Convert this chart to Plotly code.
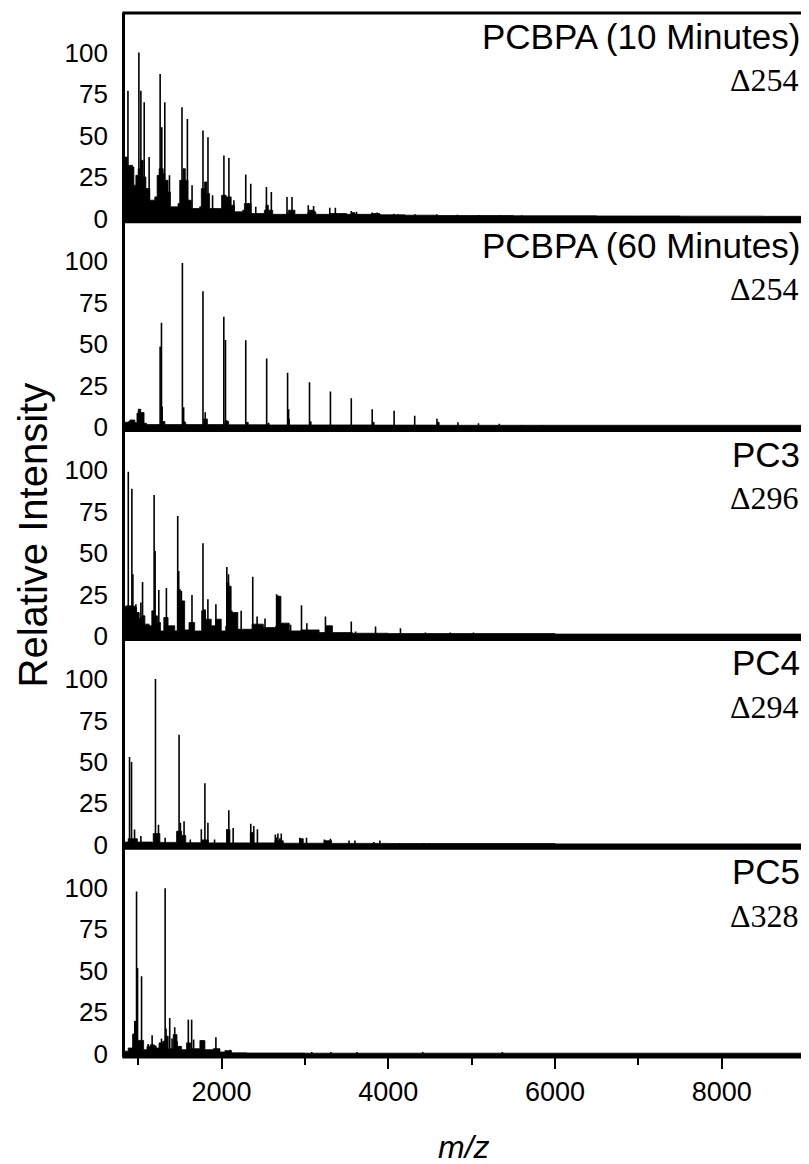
import plotly.graph_objects as go
from plotly.subplots import make_subplots

# ---------------- data ----------------
panel_names = ["PCBPA (10 Minutes)", "PCBPA (60 Minutes)", "PC3", "PC4", "PC5"]
panel_deltas = ["Δ254", "Δ254", "Δ296", "Δ294", "Δ328"]

y_ticks = [0, 25, 50, 75, 100]
x_major_ticks = [2000, 4000, 6000, 8000]
x_minor_ticks = [1000, 3000, 5000, 7000]

# Panel 1: PCBPA (10 min) peaks
p1_mz = [877, 1008, 1032, 1072, 1131, 1263, 1283, 1319, 1375, 1525, 1590, 1646, 1777, 1837, 1892,
         2028, 2088, 2148, 2290, 2350, 2410, 2538, 2597, 2785, 2845, 3040, 3104, 3298, 3365, 3556,
         3619, 3808, 3867, 4065, 4120, 4320, 4580, 4830, 5090, 5340, 5600]
p1_int = [77, 100, 77, 70, 37, 87, 55, 70, 26, 67, 60, 20, 53, 49, 14,
          38, 36.5, 11, 26.5, 21, 7, 19, 16, 13, 13, 8, 7.5, 6.5, 6.5, 4.5,
          4, 3.6, 3.6, 2.8, 2.6, 2.5, 2.4, 2.2, 2.1, 2.0, 2.0]
p1_floor_mz = [850, 861, 869, 932, 948, 972, 1000, 1028, 1060, 1092, 1139, 1199, 1227, 1251, 1300, 1319,
               1358, 1386, 1438, 1478, 1498, 1538, 1565, 1597, 1637, 1737, 1757, 1796, 1824, 1856, 1976,
               2000, 2055, 2115, 2155, 2254, 2274, 2314, 2354, 2513, 2533, 2561, 2613, 2780, 2800, 2860,
               2880, 3030, 3050, 3110, 3130, 3300, 3500, 3560, 3600, 3800, 3900, 4200, 4600, 5000, 5500,
               6000, 6500, 7000, 7500, 8000, 8500, 8975]
p1_floor_int = [37, 37, 32, 31, 20, 26, 30, 35, 25, 18, 11, 13, 26, 30, 27, 23,
                16, 7, 7, 9, 23, 30, 23, 11, 6, 7, 18, 22, 15, 6, 6,
                14, 13, 8, 4, 5, 9, 9, 3, 5, 8, 5, 2.5, 3, 5, 5,
                2.5, 3, 5, 4, 2.5, 3, 2.5, 3.5, 2.5, 3, 2.2, 2, 1.8, 1.8, 1.6,
                1.6, 1.5, 1.5, 1.4, 1.4, 1.3, 1.3]

# Panel 2: PCBPA (60 min)
p2_mz = [1263, 1279, 1287, 1530, 1545, 1777, 1804, 2027, 2047, 2290, 2541, 2792, 2804, 3055, 3306,
         3556, 3807, 4070, 4317, 4584, 4835, 5082, 5332, 5599, 5850]
p2_int = [48.6, 63, 12.5, 99, 12, 82, 9, 66.6, 52.6, 52.4, 41.5, 32.9, 10.9, 27.1, 21.5,
          17.5, 10.9, 9.9, 6.9, 5.1, 3.1, 2.5, 2.1, 1.3, 1.3]
p2_floor_mz = [850, 880, 900, 940, 960, 985, 1000, 1020, 1030, 1060, 1070, 1100, 1250, 1270, 1300, 1320,
               1520, 1535, 1555, 1570, 1770, 1785, 1815, 1830, 2020, 2040, 2070, 2085, 2280, 2300, 2320,
               2540, 2555, 2570, 2790, 2800, 2815, 3050, 3060, 3075, 3800, 3810, 3830, 4580, 4590, 4610,
               6000, 8975]
p2_floor_int = [3, 3.4, 4.4, 4.4, 2.8, 8.5, 10.9, 10.9, 8.9, 8.9, 2.4, 1.6, 1.8, 3.5, 3.5, 1.6,
                1.6, 3.5, 3, 1.6, 1.6, 5, 5, 1.6, 1.6, 4, 3.5, 1.5, 1.5, 3, 1.5,
                1.5, 2.5, 1.4, 1.4, 5, 1.4, 1.4, 3.4, 1.4, 1.3, 3, 1.3, 1.3, 3, 1.2,
                1.2, 1.1]

# Panel 3: PC3
p3_mz = [848, 881, 924, 936, 972, 1032, 1052, 1191, 1203, 1247, 1338, 1474, 1486, 1518, 1542, 1645,
         1777, 1800, 1836, 1932, 2063, 2083, 2123, 2235, 2374, 2426, 2521, 2660, 2676, 2720, 2828,
         2959, 3023, 3246, 3310, 3556, 3608, 3847, 4146, 4444, 4743, 5022, 5631]
p3_int = [10.6, 99, 88.8, 37.2, 19.2, 20.2, 32.6, 85, 51.3, 27.8, 29, 72.3, 39.2, 27.2, 21.2, 24.8,
          55.9, 16.2, 22.2, 19.2, 41.6, 37.2, 15.2, 15.2, 35.8, 11.8, 10.6, 25.2, 24.2, 7.6, 6.8,
          18.6, 7.8, 11.8, 4.5, 8.8, 2.7, 5.7, 4.7, 2.1, 2.1, 2.1, 1.1]
p3_floor_mz = [850, 860, 920, 960, 980, 1012, 1040, 1080, 1131, 1163, 1199, 1231, 1267, 1307, 1358, 1438,
               1470, 1490, 1506, 1557, 1609, 1677, 1761, 1808, 1876, 1928, 1996, 2050, 2060, 2088, 2115,
               2195, 2366, 2501, 2650, 2660, 2680, 2712, 2812, 2951, 3170, 3250, 3330, 3568, 4000, 5000,
               6000, 8975]
p3_floor_int = [18, 18.2, 18, 17.2, 14.2, 10.6, 12.2, 7.2, 6.2, 15.2, 12.2, 8.2, 3.1, 11.2, 6.2, 3.1,
                28.2, 28, 21.2, 3.7, 8.2, 3.1, 15.2, 10.2, 6.2, 10.2, 3.1, 6, 32, 30, 14.2,
                4.1, 7.2, 5.1, 6, 24.2, 24, 7.8, 3.1, 3.7, 2.1, 6.2, 2.1, 1.7, 1.5, 1.5,
                1.2, 1.0]

# Panel 4: PC4
p4_mz = [896, 920, 956, 1032, 1207, 1243, 1323, 1490, 1506, 1550, 1625, 1757, 1800, 1836, 1916,
         2067, 2087, 2139, 2350, 2386, 2430, 2645, 2660, 2676, 2700, 2716, 2939, 2963, 3019, 3234,
         3306, 3529, 3600, 3827, 3899, 4138, 4424, 4496]
p4_int = [52.9, 49.9, 9.2, 5.3, 100, 12.2, 4.3, 66.3, 13.4, 14.2, 3.3, 9.4, 37.2, 13.4, 3.3,
          9.2, 20.8, 10.2, 12.8, 11.4, 9.4, 6.2, 4.5, 6.8, 4.0, 6.8, 4.3, 2.3, 4.3, 3.3,
          3.7, 2.7, 2.6, 1.8, 2.6, 1.2, 1.2, 1.1]
p4_floor_mz = [850, 880, 960, 990, 1120, 1170, 1180, 1240, 1260, 1450, 1460, 1510, 1520, 1560, 1570,
               1750, 1760, 1830, 1840, 2050, 2060, 2090, 2100, 2340, 2345, 2375, 2385, 2630, 2640, 2730,
               2740, 2930, 2935, 2975, 2980, 3220, 3230, 3310, 3320, 4000, 6000, 8975]
p4_floor_int = [1.7, 3.7, 3.7, 1.7, 1.7, 1.5, 6.8, 6.8, 1.5, 1.5, 8.2, 8.2, 5.7, 5.7, 1.3,
                1.3, 3, 3, 1.2, 1.2, 9.2, 9.2, 1.2, 1.2, 7.4, 7.4, 1.2, 1.2, 2.5, 2.5,
                1, 1, 3.7, 3.7, 1, 1, 2.5, 2.5, 0.9, 0.8, 0.6, 0.5]

# Panel 5: PC5
p5_mz = [940, 960, 980, 992, 1040, 1119, 1167, 1191, 1211, 1279, 1323, 1334, 1378, 1406, 1438, 1466,
         1498, 1601, 1641, 1665, 1768, 1932, 1965, 2055, 2103, 3083, 3310, 3625, 4413, 5369]
p5_int = [11.5, 19.5, 97.7, 51.6, 46.6, 5.9, 11.1, 5.4, 5, 9.1, 99.7, 15.1, 21.5, 9.1, 15.9, 7.5,
          4.4, 20.5, 20.5, 8.5, 7.9, 9.9, 3, 1.8, 2.4, 1, 1, 1, 1, 1]
p5_floor_mz = [850, 880, 920, 935, 950, 955, 970, 975, 1060, 1065, 1100, 1105, 1140, 1145, 1180, 1185,
               1240, 1250, 1290, 1295, 1320, 1325, 1355, 1360, 1400, 1420, 1460, 1465, 1515, 1520, 1575,
               1580, 1625, 1630, 1730, 1740, 1790, 1800, 1860, 1900, 1970, 1980, 2035, 2040, 2115, 2120,
               2300, 3000, 8975]
p5_floor_int = [1.5, 3.4, 3.4, 11.9, 11.9, 19.5, 19.5, 8, 8, 2.4, 2.4, 4.4, 4.4, 5.4, 5.4, 3.4,
                3.4, 6.5, 6.5, 7.5, 7.5, 10.5, 10.5, 3, 3, 11.5, 11.5, 4.4, 4.4, 2.4, 2.4,
                6.5, 6.5, 3, 3, 7.9, 7.9, 2.4, 2.4, 3, 3, 1, 1, 1.8, 1.8, 0.5,
                0.4, 0.3, 0.2]

peaks = [(p1_mz, p1_int), (p2_mz, p2_int), (p3_mz, p3_int), (p4_mz, p4_int), (p5_mz, p5_int)]
floors = [(p1_floor_mz, p1_floor_int), (p2_floor_mz, p2_floor_int), (p3_floor_mz, p3_floor_int),
          (p4_floor_mz, p4_floor_int), (p5_floor_mz, p5_floor_int)]

# ---------------- figure ----------------
# The page body has an 8 px margin, so the figure is 16 px smaller than the window.
X_RANGE = [841.5, 8975]
Y_RANGE = [-2, 123.8]
FILL_BASE = -12          # below the visible range, clipped by the plot area
LW = 2.6
FONT = "Arial, Liberation Sans, sans-serif"
PANEL_PX = 208.9
PLOT_W = 681

fig = make_subplots(rows=5, cols=1, shared_xaxes=True, vertical_spacing=0)

for i in range(5):
    row = i + 1
    fmz, fint = floors[i]
    fx = [X_RANGE[0] - 100, X_RANGE[0] - 100] + list(fmz) + [X_RANGE[1] + 100, X_RANGE[1] + 100]
    fy = [FILL_BASE, fint[0]] + list(fint) + [fint[-1], FILL_BASE]
    fig.add_trace(go.Scatter(x=fx, y=fy, mode="lines", fill="toself", fillcolor="black",
                             line=dict(color="black", width=0.8, shape="hv"), showlegend=False,
                             hoverinfo="skip"), row=row, col=1)
    mz, it = peaks[i]
    sx, sy = [], []
    for m, v in zip(mz, it):
        sx += [m, m, None]
        sy += [0, v, None]
    fig.add_trace(go.Scatter(x=sx, y=sy, mode="lines", line=dict(color="black", width=1.6),
                             showlegend=False), row=row, col=1)

    fig.update_yaxes(range=Y_RANGE, tickvals=y_ticks, ticks="", showgrid=False, zeroline=False,
                     showline=True, linecolor="black", linewidth=LW, mirror=True,
                     tickfont=dict(family=FONT, size=26, color="black"), ticklabelstandoff=9,
                     row=row, col=1)
    last = (row == 5)
    fig.update_xaxes(range=X_RANGE, showgrid=False, zeroline=False, showline=False,
                     tickvals=x_major_ticks if last else [], ticks="outside" if last else "",
                     ticklen=11, tickwidth=2.2, tickcolor="black",
                     showticklabels=last,
                     tickfont=dict(family=FONT, size=27, color="black"),
                     row=row, col=1)
    if last:
        fig.update_xaxes(minor=dict(ticks="outside", ticklen=7, tickwidth=2, tickcolor="black",
                                    tickvals=x_minor_ticks), row=row, col=1)

    xref = "x domain" if row == 1 else f"x{row} domain"
    yref = "y domain" if row == 1 else f"y{row} domain"
    # horizontal frame line at the bottom of each panel (and top of the first)
    edges = [0, 1] if row == 1 else [0]
    for e in edges:
        fig.add_shape(type="line", xref="paper", yref=yref, x0=-LW / PLOT_W, x1=1 + LW / PLOT_W,
                      y0=e, y1=e, line=dict(color="black", width=3), layer="above")
    fig.add_annotation(text=panel_names[i], xref=xref, yref=yref, x=1, y=1 - 23.5 / PANEL_PX,
                       xanchor="right", yanchor="middle", xshift=-1, showarrow=False,
                       font=dict(family=FONT, size=35, color="black"))
    fig.add_annotation(text=panel_deltas[i], xref=xref, yref=yref, x=1, y=1 - 67.5 / PANEL_PX,
                       xanchor="right", yanchor="middle", xshift=-2, showarrow=False,
                       font=dict(family="Liberation Serif, Times New Roman, serif", size=32, color="black"))

# axis titles
fig.add_annotation(text="Relative Intensity", xref="paper", yref="paper", x=(33 - 125) / PLOT_W, y=0.5,
                   xanchor="center", yanchor="middle", textangle=-90, showarrow=False,
                   font=dict(family=FONT, size=40, color="black"))
fig.add_annotation(text="<i>m/z</i>", xref="paper", yref="paper", x=0.5, y=(1057 - 1147) / 1044.5,
                   xanchor="center", yanchor="middle", showarrow=False,
                   font=dict(family=FONT, size=32, color="black"))

fig.update_layout(width=801, height=1156, margin=dict(l=117, r=3, t=4.5, b=107),
                  plot_bgcolor="white", paper_bgcolor="white", showlegend=False)

fig.write_html("out.html")
